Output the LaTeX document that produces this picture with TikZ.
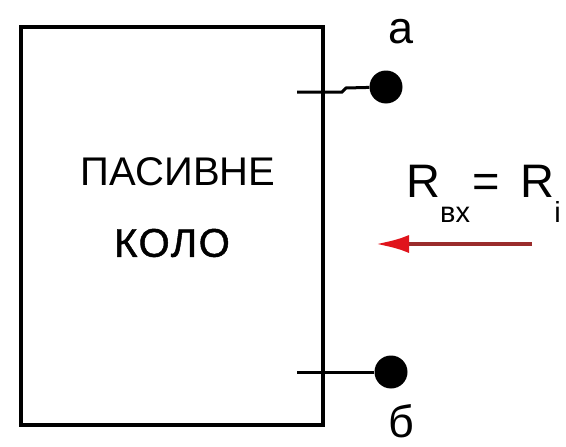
\documentclass[tikz,border=0pt]{standalone}
\usepackage{fontspec}
\setmainfont{Liberation Sans}
\usetikzlibrary{arrows.meta, positioning}
\definecolor{arrowred}{HTML}{E0141C}
\definecolor{shaftred}{HTML}{9A2C2C}

\begin{document}
\begin{tikzpicture}[
  x=1pt, y=-1pt,
  net box/.style={draw, line width=3.5pt, minimum width=302pt, minimum height=398pt, inner sep=0pt},
  terminal/.style={circle, fill=black, minimum size=33pt, inner sep=0pt},
  lead/.style={line width=3pt},
  box text/.style={inner sep=0pt, font=\fontsize{40pt}{48pt}\selectfont},
  pin label/.style={inner sep=0pt, font=\fontsize{45pt}{54pt}\selectfont},
  input arrow/.style={draw=shaftred, line width=4.5pt, -{Latex[length=34pt, width=18pt, fill=arrowred, color=arrowred]}}
]
\useasboundingbox (0,0) rectangle (566,447);
\begin{scope}
\clip (0,0) rectangle (566,447);
% passive network
\node[net box] (net) at (172,226) {};
\node[box text] (line one) at (178,172) {ПАСИВНЕ};
\node[box text, font=\fontsize{40pt}{48pt}\selectfont\addfontfeatures{FakeBold=1.2, LetterSpace=4}] (line two) at (172,243) {КОЛО};

% terminals
\node[terminal] (a) at (386,87) {};
\node[terminal] (b) at (391,372) {};
\coordinate (a lead) at (297,92);
\coordinate (b lead) at (297,372);
\draw[lead] (a lead) -- (342,92) -- (346,88) -- (a);
\draw[lead] (b lead) -- (b);
\node[pin label] (a label) at (401,32) {а};
\node[pin label] (b label) at (401,421) {б};

% input resistance
\node[anchor=base west, inner sep=0pt, font=\fontsize{47pt}{56pt}\selectfont] (rin) at (406,197)
  {R\raisebox{-25pt}{\fontsize{29pt}{34pt}\selectfont вх}\hspace{2pt}=\hspace{21pt}R\raisebox{-25pt}{\fontsize{29pt}{34pt}\selectfont i}};
\coordinate (arrow start) at (532,244);
\coordinate (arrow tip) at (375,244);
\draw[input arrow] (arrow start) -- (arrow tip);
\end{scope}
\end{tikzpicture}
\end{document}
